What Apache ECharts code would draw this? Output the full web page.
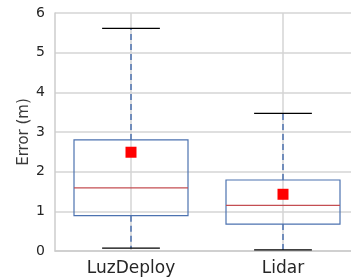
<!DOCTYPE html>
<html>
<head>
<meta charset="utf-8">
<script src="https://cdn.jsdelivr.net/npm/echarts@6/dist/echarts.min.js"></script>
<style>
  html, body { margin: 0; padding: 0; background: #fff; }
  #chart { width: 351px; height: 279px; }
</style>
</head>
<body>
<div id="chart"></div>
<script>
// values (metres)
var categories = ['LuzDeploy', 'Lidar'];
var whiskerLow = [0.07, 0.03];
var q1 = [0.89, 0.68];
var median = [1.59, 1.15];
var q3 = [2.80, 1.79];
var whiskerHigh = [5.61, 3.47];
var means = [2.49, 1.43];
var yTicks = [0, 1, 2, 3, 4, 5, 6];

var boxData = categories.map(function (c, i) {
  return [i, whiskerLow[i], q1[i], median[i], q3[i], whiskerHigh[i]];
});

var blue = '#4c72b0';
var red = '#c44e52';
var gridGray = '#d4d4d4';

function renderBox(params, api) {
  var idx = api.value(0);
  var lo = api.coord([idx, api.value(1)]);
  var b1 = api.coord([idx, api.value(2)]);
  var md = api.coord([idx, api.value(3)]);
  var b3 = api.coord([idx, api.value(4)]);
  var hi = api.coord([idx, api.value(5)]);
  var yMin = api.coord([idx, yTicks[0]]);
  var yMax = api.coord([idx, yTicks[yTicks.length - 1]]);
  var band = api.size([1, 0])[0];
  var hw = band * 0.375;
  var cw = band * 0.19;
  var x = lo[0];
  return {
    type: 'group',
    children: [
      // vertical grid line through the category centre
      { type: 'line', shape: { x1: x, y1: yMin[1], x2: x, y2: yMax[1] },
        style: { stroke: gridGray, lineWidth: 1.5 } },
      { type: 'line', shape: { x1: x, y1: b3[1], x2: x, y2: hi[1] },
        style: { stroke: blue, lineWidth: 1.5, lineDash: [6, 4] } },
      { type: 'line', shape: { x1: x, y1: b1[1], x2: x, y2: lo[1] },
        style: { stroke: blue, lineWidth: 1.5, lineDash: [6, 4] } },
      { type: 'line', shape: { x1: x - cw, y1: hi[1], x2: x + cw, y2: hi[1] },
        style: { stroke: '#000', lineWidth: 1.3 } },
      { type: 'line', shape: { x1: x - cw, y1: lo[1], x2: x + cw, y2: lo[1] },
        style: { stroke: '#000', lineWidth: 1.3 } },
      { type: 'rect', shape: { x: x - hw, y: b3[1], width: hw * 2, height: b1[1] - b3[1] },
        style: { fill: 'rgba(0,0,0,0)', stroke: blue, lineWidth: 1.2 } },
      { type: 'line', shape: { x1: x - hw, y1: md[1], x2: x + hw, y2: md[1] },
        style: { stroke: red, lineWidth: 1.2 } }
    ]
  };
}

var chart = echarts.init(document.getElementById('chart'));
chart.setOption({
  animation: false,
  textStyle: { fontFamily: 'DejaVu Sans' },
  grid: { left: 55, top: 13, width: 304, height: 238, outerBoundsMode: 'none', containLabel: false },
  xAxis: {
    type: 'category',
    data: categories,
    axisLine: { show: true, lineStyle: { color: '#cccccc', width: 1.5 } },
    axisTick: { show: false },
    splitLine: { show: false },
    axisLabel: { color: '#262626', fontSize: 17, margin: 9 }
  },
  yAxis: {
    type: 'value',
    min: yTicks[0],
    max: yTicks[yTicks.length - 1],
    interval: 1,
    name: 'Error (m)',
    nameLocation: 'middle',
    nameGap: 23,
    nameMoveOverlap: false,
    nameTextStyle: { color: '#3a3a3a', fontSize: 15 },
    axisLine: { show: true, lineStyle: { color: '#cccccc', width: 1.5 } },
    axisTick: { show: false },
    splitLine: { lineStyle: { color: gridGray, width: 1.5 } },
    axisLabel: { color: '#262626', fontSize: 14, margin: 10 }
  },
  series: [
    {
      type: 'custom',
      renderItem: renderBox,
      encode: { x: 0, y: [1, 2, 3, 4, 5] },
      data: boxData,
      z: 3
    },
    {
      type: 'scatter',
      symbol: 'rect',
      symbolSize: 11,
      itemStyle: { color: '#ff0000', opacity: 1 },
      data: means.map(function (m, i) { return [i, m]; }),
      z: 4
    }
  ]
});
</script>
</body>
</html>
